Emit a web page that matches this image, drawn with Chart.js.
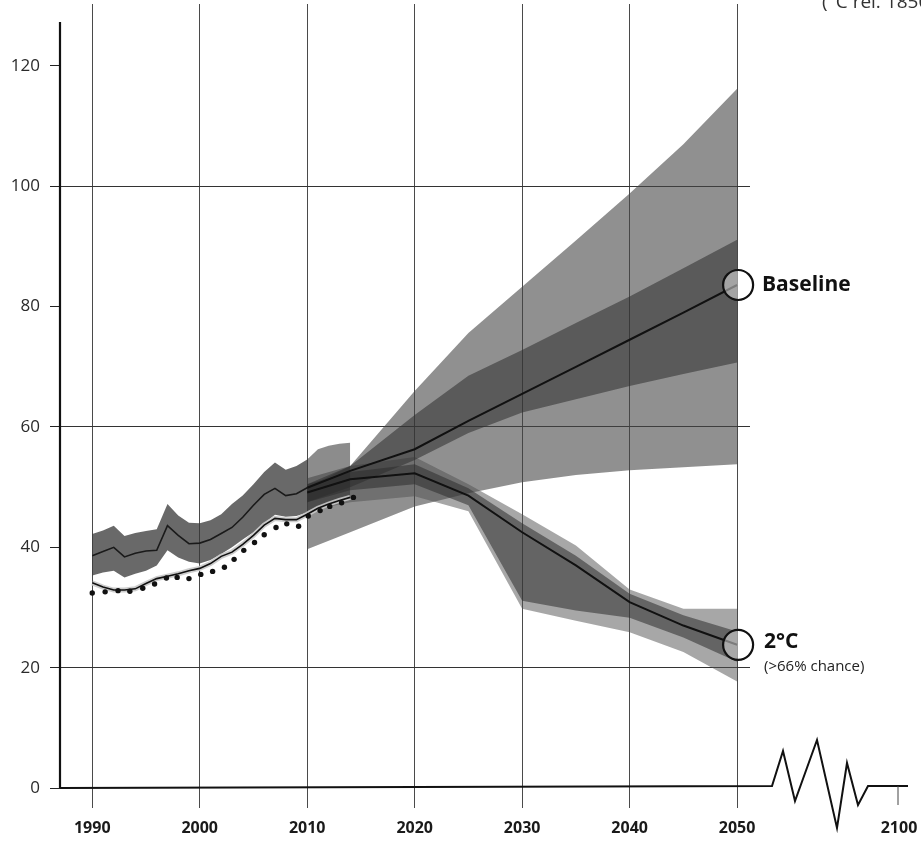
<!DOCTYPE html>
<html>
<head>
<meta charset="utf-8">
<script src="https://cdn.jsdelivr.net/npm/chart.js@4.4.1/dist/chart.umd.min.js"></script>
<style>
html,body{margin:0;padding:0;background:#fff;}
#c{display:block;}
</style>
</head>
<body>
<canvas id="c" width="921" height="848"></canvas>
<script>
// ---------------- DATA ----------------
const X_TICKS = [1990, 2000, 2010, 2020, 2030, 2040, 2050];
const Y_TICKS = [0, 20, 40, 60, 80, 100, 120];
const Y_GRID = [20, 60, 100];

// Historical (1990-2010) band with central line
const HIST_YEARS = [1990,1991,1992,1993,1994,1995,1996,1997,1998,1999,2000,2001,2002,2003,2004,2005,2006,2007,2008,2009,2010];
const HIST_CENTRAL = [38.6,39.3,40.0,38.4,39.0,39.4,39.5,43.6,42.0,40.6,40.7,41.3,42.3,43.3,45.0,47.0,48.8,49.8,48.6,48.9,49.9];
const HIST_TOP = [42.2,42.8,43.6,41.9,42.4,42.7,43.0,47.2,45.3,44.1,44.0,44.5,45.5,47.2,48.6,50.5,52.5,54.1,52.9,53.5,54.6];
const HIST_BOTTOM = [35.3,35.8,36.1,35.0,35.6,36.1,37.0,39.5,38.3,37.6,37.3,37.9,38.9,40.0,41.3,42.5,44.0,45.4,45.1,45.2,45.8];

// Recent band 2010-2014
const RECENT_YEARS = [2010, 2011, 2012, 2013, 2014];
const RECENT_TOP = [54.6, 56.3, 56.9, 57.2, 57.4];
const RECENT_BOTTOM = [46.0, 46.8, 47.5, 48.0, 48.5];

// Lower inventory line (with light halo), 1990-2014
const INV_YEARS = [1990,1991,1992,1993,1994,1995,1996,1997,1998,1999,2000,2001,2002,2003,2004,2005,2006,2007,2008,2009,2010,2011,2012,2013,2014];
const INV_VALUES = [34.1,33.4,32.9,32.9,33.1,34.0,34.8,35.2,35.6,36.1,36.5,37.3,38.5,39.2,40.5,42.0,43.7,44.8,44.6,44.6,45.5,46.5,47.2,47.8,48.3];

// Dotted series
const DOT_YEARS = [1990.0,1991.2,1992.4,1993.5,1994.7,1995.8,1996.9,1997.9,1999.0,2000.1,2001.2,2002.3,2003.2,2004.1,2005.1,2006.0,2007.1,2008.1,2009.2,2010.1,2011.2,2012.1,2013.2,2014.3];
const DOT_VALUES = [32.4,32.6,32.8,32.7,33.2,33.9,34.9,35.0,34.8,35.5,36.0,36.7,38.0,39.5,40.8,42.1,43.3,43.9,43.5,45.2,46.1,46.8,47.4,48.3];

// Scenarios 2010-2050
const PROJ_YEARS = [2010, 2014, 2020, 2025, 2030, 2035, 2040, 2045, 2050];
const BASELINE_LINE = [49.9, 52.7, 56.3, 61.0, 65.5, 70.0, 74.5, 79.0, 83.6];
const BASELINE_OUTER_TOP = [50.0, 53.5, 66.0, 75.6, 83.3, 91.0, 98.8, 107.0, 116.2];
const BASELINE_OUTER_BOTTOM = [39.7, 42.5, 46.8, 49.0, 50.8, 52.0, 52.8, 53.3, 53.8];
const BASELINE_INNER_TOP = [50.5, 53.5, 62.0, 68.5, 72.8, 77.3, 81.7, 86.4, 91.1];
const BASELINE_INNER_BOTTOM = [47.5, 50.0, 54.5, 59.0, 62.4, 64.6, 66.8, 68.8, 70.7];

const TWOC_LINE = [49.1, 51.3, 52.3, 48.6, 42.5, 37.0, 30.9, 27.0, 23.8];
const TWOC_OUTER_TOP = [51.5, 53.5, 55.0, 50.5, 45.5, 40.3, 33.0, 29.8, 29.8];
const TWOC_OUTER_BOTTOM = [46.0, 47.5, 48.5, 46.0, 29.8, 27.8, 25.9, 22.6, 17.7];
const TWOC_INNER_TOP = [50.5, 52.5, 53.8, 49.8, 44.0, 38.6, 32.3, 28.7, 26.0];
const TWOC_INNER_BOTTOM = [47.5, 49.5, 50.5, 47.0, 31.1, 29.5, 28.3, 25.0, 21.0];

const LABELS = { baseline: 'Baseline', twoC: '2°C', chance: '(>66% chance)', unit: '(°C rel. 1850–1900)', farYear: '2100' };

// ---------------- BUILD ----------------
const pts = (xs, ys) => xs.map((x, i) => ({ x: x, y: ys[i] }));

function band(xs, lo, hi, color, order) {
  return [
    { data: pts(xs, lo), borderWidth: 0, pointRadius: 0, fill: false, order: order, tension: 0 },
    { data: pts(xs, hi), borderWidth: 0, pointRadius: 0, fill: '-1', backgroundColor: color, order: order, tension: 0 }
  ];
}
function line(xs, ys, color, width, order) {
  return { data: pts(xs, ys), borderColor: color, borderWidth: width, pointRadius: 0, fill: false, order: order, tension: 0 };
}

const datasets = [].concat(
  band(PROJ_YEARS, BASELINE_OUTER_BOTTOM, BASELINE_OUTER_TOP, 'rgba(70,70,70,0.6)', 20),
  band(PROJ_YEARS, TWOC_OUTER_BOTTOM, TWOC_OUTER_TOP, 'rgba(80,80,80,0.5)', 19),
  band(PROJ_YEARS, BASELINE_INNER_BOTTOM, BASELINE_INNER_TOP, 'rgba(45,45,45,0.55)', 18),
  band(PROJ_YEARS, TWOC_INNER_BOTTOM, TWOC_INNER_TOP, 'rgba(45,45,45,0.55)', 17),
  band(HIST_YEARS, HIST_BOTTOM, HIST_TOP, 'rgba(55,55,55,0.75)', 16),
  band(RECENT_YEARS, RECENT_BOTTOM, RECENT_TOP, 'rgba(45,45,45,0.55)', 15),
  [
    line(INV_YEARS, INV_VALUES, 'rgba(200,200,200,0.9)', 5, 10),
    line(INV_YEARS, INV_VALUES, '#111', 1.6, 9),
    line(HIST_YEARS, HIST_CENTRAL, '#1a1a1a', 1.6, 8),
    line(PROJ_YEARS, BASELINE_LINE, '#111', 2, 7),
    line(PROJ_YEARS, TWOC_LINE, '#111', 2, 6),
    { data: pts(DOT_YEARS, DOT_VALUES), showLine: false, pointRadius: 2.7, pointBackgroundColor: '#111', pointBorderWidth: 0, order: 5 }
  ]
);

const decor = {
  id: 'decor',
  afterDraw(chart) {
    const c = chart.ctx;
    const xs = chart.scales.x, ys = chart.scales.y;
    c.save();
    // y axis line
    c.strokeStyle = '#111'; c.lineWidth = 2.2;
    c.beginPath(); c.moveTo(60, 22); c.lineTo(60, ys.getPixelForValue(0)); c.stroke();
    // x axis line + break zigzag
    const y0 = ys.getPixelForValue(0);
    c.lineWidth = 2;
    c.beginPath();
    c.moveTo(60, y0); c.lineTo(772, y0 - 2);
    c.lineTo(783, 751); c.lineTo(795, 801); c.lineTo(817, 740); c.lineTo(837, 828);
    c.lineTo(847, 763); c.lineTo(858, 805); c.lineTo(868, 786); c.lineTo(908, 786);
    c.stroke();
    // 2100 tick + label
    c.lineWidth = 1; c.strokeStyle = '#444';
    c.beginPath(); c.moveTo(898, 786); c.lineTo(898, 805); c.stroke();
    c.fillStyle = '#1a1a1a';
    c.font = 'bold 16px "Open Sans"';
    c.textAlign = 'center'; c.textBaseline = 'middle';
    c.fillText(LABELS.farYear, 899, 828);
    // end circles
    const last = PROJ_YEARS.length - 1;
    const px = xs.getPixelForValue(PROJ_YEARS[last]);
    [BASELINE_LINE[last], TWOC_LINE[last]].forEach(v => {
      const py = ys.getPixelForValue(v);
      c.beginPath(); c.arc(px + 1, py, 15, 0, Math.PI * 2);
      c.fillStyle = 'rgba(255,255,255,0.45)'; c.fill();
      c.strokeStyle = '#111'; c.lineWidth = 2.2; c.stroke();
    });
    // labels
    c.fillStyle = '#111'; c.textAlign = 'left'; c.textBaseline = 'middle';
    c.font = 'bold 21px "Open Sans"';
    c.fillText(LABELS.baseline, 762, ys.getPixelForValue(BASELINE_LINE[last]));
    c.fillText(LABELS.twoC, 764, ys.getPixelForValue(TWOC_LINE[last]) - 3);
    c.font = '15px "Open Sans"'; c.fillStyle = '#222';
    c.fillText(LABELS.chance, 764, ys.getPixelForValue(TWOC_LINE[last]) + 22);
    // unit text (cropped at the top)
    c.font = '19px "Open Sans"'; c.fillStyle = '#333'; c.textBaseline = 'alphabetic';
    c.fillText(LABELS.unit, 822, 8);
    c.restore();
  }
};

new Chart(document.getElementById('c'), {
  type: 'line',
  data: { datasets: datasets },
  options: {
    responsive: false,
    animation: false,
    devicePixelRatio: 1,
    layout: { padding: { left: 0, right: 171, top: 4, bottom: 0 } },
    plugins: { legend: { display: false }, tooltip: { enabled: false } },
    scales: {
      x: {
        type: 'linear', min: 1987.0, max: 2051.2, z: 1,
        afterBuildTicks: s => { s.ticks = X_TICKS.map(v => ({ value: v })); },
        afterFit: s => { s.height = 60; s.paddingLeft = 0; s.paddingRight = 0; },
        border: { display: false },
        grid: { color: '#4a4a4a', lineWidth: 1, tickLength: 20, tickColor: '#4a4a4a' },
        ticks: { color: '#1a1a1a', font: { family: 'Open Sans', size: 16, weight: 'bold' }, padding: 11, maxRotation: 0, autoSkip: false,
                 callback: v => String(v) }
      },
      y: {
        type: 'linear', min: 0, max: 130.3, z: 1,
        afterBuildTicks: s => { s.ticks = Y_TICKS.map(v => ({ value: v })); },
        afterFit: s => { s.width = 60; s.paddingTop = 0; s.paddingBottom = 0; },
        border: { display: false },
        grid: {
          color: ctx => (ctx.tick && Y_GRID.includes(ctx.tick.value)) ? '#333' : 'rgba(0,0,0,0)',
          lineWidth: 1, tickLength: 10, tickColor: '#222'
        },
        ticks: { color: '#2a2a2a', font: { family: 'Open Sans', size: 17 }, padding: 10, callback: v => String(v) }
      }
    }
  },
  plugins: [decor]
});
</script>
</body>
</html>
